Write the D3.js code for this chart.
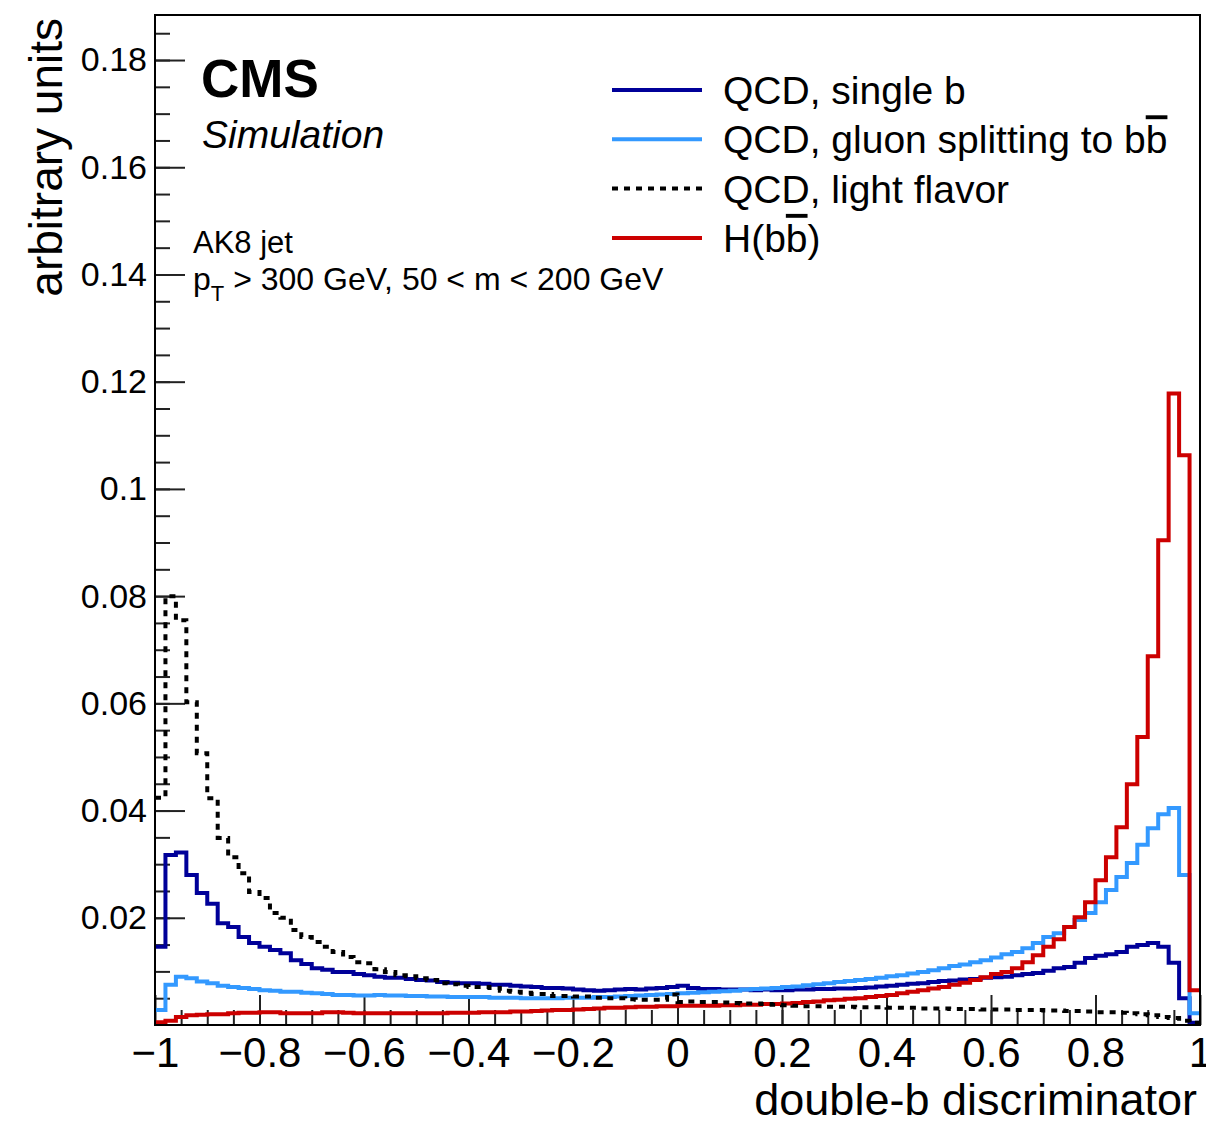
<!DOCTYPE html>
<html>
<head>
<meta charset="utf-8">
<script src="https://cdn.jsdelivr.net/npm/d3@7"></script>
<style>
  body { margin: 0; background: #fff; }
  text { font-family: "Liberation Sans", Arial, Helvetica, sans-serif; fill: #000; }
</style>
</head>
<body>
<div id="chart"></div>
<script>
// binning of the discriminator histograms
const xMin = -1, xMax = 1, nBins = 100;

// bin contents (100 bins of width 0.02)
const singleB = [
  0.0146, 0.0317, 0.0322, 0.0280, 0.0246, 0.0226, 0.0190, 0.0183, 0.0164, 0.0153,
  0.0146, 0.0140, 0.0134, 0.0121, 0.0114, 0.0106, 0.0103, 0.0099, 0.0099, 0.0095,
  0.0093, 0.0090, 0.0088, 0.0088, 0.0086, 0.0084, 0.0083, 0.0080, 0.0079, 0.0078,
  0.0078, 0.0077, 0.0075, 0.0075, 0.0073, 0.0072, 0.0071, 0.0069, 0.0069, 0.0068,
  0.0066, 0.0065, 0.0064, 0.0065, 0.0066, 0.0067, 0.0066, 0.0068, 0.0069, 0.0071,
  0.0073, 0.0069, 0.0067, 0.0067, 0.0066, 0.0066, 0.0066, 0.0065, 0.0066, 0.0065,
  0.0065, 0.0066, 0.0066, 0.0067, 0.0067, 0.0068, 0.0068, 0.0069, 0.0070, 0.0072,
  0.0073, 0.0075, 0.0077, 0.0078, 0.0080, 0.0082, 0.0083, 0.0085, 0.0086, 0.0088,
  0.0089, 0.0090, 0.0093, 0.0095, 0.0097, 0.0101, 0.0106, 0.0108, 0.0116, 0.0125,
  0.0129, 0.0132, 0.0136, 0.0146, 0.0149, 0.0153, 0.0146, 0.0116, 0.0050, 0.0004
];
const gluonSplit = [
  0.0028, 0.0075, 0.0090, 0.0087, 0.0081, 0.0078, 0.0073, 0.0071, 0.0069, 0.0067,
  0.0065, 0.0064, 0.0062, 0.0062, 0.0060, 0.0059, 0.0058, 0.0056, 0.0056, 0.0055,
  0.0055, 0.0056, 0.0055, 0.0055, 0.0054, 0.0054, 0.0053, 0.0053, 0.0052, 0.0052,
  0.0052, 0.0052, 0.0051, 0.0051, 0.0051, 0.0050, 0.0050, 0.0050, 0.0050, 0.0051,
  0.0051, 0.0051, 0.0052, 0.0052, 0.0053, 0.0054, 0.0055, 0.0056, 0.0057, 0.0058,
  0.0059, 0.0060, 0.0061, 0.0062, 0.0063, 0.0064, 0.0066, 0.0067, 0.0068, 0.0069,
  0.0071, 0.0072, 0.0074, 0.0076, 0.0078, 0.0080, 0.0082, 0.0084, 0.0086, 0.0088,
  0.0091, 0.0093, 0.0096, 0.0099, 0.0102, 0.0106, 0.0110, 0.0113, 0.0117, 0.0121,
  0.0126, 0.0132, 0.0136, 0.0143, 0.0153, 0.0164, 0.0171, 0.0183, 0.0196, 0.0209,
  0.0229, 0.0252, 0.0276, 0.0302, 0.0336, 0.0367, 0.0393, 0.0405, 0.0280, 0.0022
];
const lightFlavor = [
  0.0424, 0.0800, 0.0755, 0.0602, 0.0507, 0.0423, 0.0349, 0.0313, 0.0283, 0.0248,
  0.0237, 0.0209, 0.0200, 0.0177, 0.0164, 0.0155, 0.0146, 0.0136, 0.0127, 0.0117,
  0.0115, 0.0104, 0.0099, 0.0093, 0.0091, 0.0087, 0.0084, 0.0078, 0.0076, 0.0073,
  0.0071, 0.0071, 0.0069, 0.0064, 0.0062, 0.0060, 0.0058, 0.0058, 0.0054, 0.0054,
  0.0053, 0.0053, 0.0051, 0.0050, 0.0050, 0.0048, 0.0047, 0.0047, 0.0047, 0.0057,
  0.0043, 0.0044, 0.0043, 0.0043, 0.0042, 0.0041, 0.0040, 0.0040, 0.0039, 0.0038,
  0.0037, 0.0036, 0.0035, 0.0035, 0.0034, 0.0034, 0.0034, 0.0033, 0.0033, 0.0033,
  0.0032, 0.0032, 0.0032, 0.0031, 0.0031, 0.0031, 0.0030, 0.0030, 0.0030, 0.0029,
  0.0029, 0.0029, 0.0028, 0.0028, 0.0028, 0.0027, 0.0027, 0.0026, 0.0026, 0.0025,
  0.0024, 0.0024, 0.0023, 0.0022, 0.0020, 0.0018, 0.0015, 0.0013, 0.0008, 0.0004
];
const higgsBB = [
  0.0005, 0.0008, 0.0015, 0.0018, 0.0019, 0.0020, 0.0020, 0.0022, 0.0023, 0.0023,
  0.0024, 0.0024, 0.0022, 0.0022, 0.0022, 0.0022, 0.0024, 0.0024, 0.0023, 0.0022,
  0.0022, 0.0022, 0.0022, 0.0022, 0.0022, 0.0022, 0.0022, 0.0022, 0.0023, 0.0023,
  0.0023, 0.0024, 0.0024, 0.0024, 0.0025, 0.0025, 0.0026, 0.0027, 0.0028, 0.0028,
  0.0029, 0.0030, 0.0031, 0.0032, 0.0032, 0.0033, 0.0034, 0.0034, 0.0035, 0.0035,
  0.0036, 0.0036, 0.0036, 0.0036, 0.0037, 0.0037, 0.0038, 0.0038, 0.0039, 0.0039,
  0.0040, 0.0041, 0.0043, 0.0044, 0.0046, 0.0047, 0.0049, 0.0050, 0.0052, 0.0054,
  0.0056, 0.0059, 0.0062, 0.0065, 0.0068, 0.0071, 0.0075, 0.0079, 0.0084, 0.0089,
  0.0095, 0.0099, 0.0106, 0.0117, 0.0130, 0.0146, 0.0160, 0.0183, 0.0201, 0.0229,
  0.0270, 0.0313, 0.0369, 0.0449, 0.0537, 0.0688, 0.0904, 0.1178, 0.1063, 0.0065
];

const xTicks = [-1, -0.8, -0.6, -0.4, -0.2, 0, 0.2, 0.4, 0.6, 0.8, 1];
const yTicks = [0.02, 0.04, 0.06, 0.08, 0.1, 0.12, 0.14, 0.16, 0.18];
const yMax = 0.1884;

const series = [
  { name: "QCD, single b", values: singleB, color: "#000099", dash: null },
  { name: "QCD, gluon splitting to b", bar: "b", values: gluonSplit, color: "#3399ff", dash: null },
  { name: "H(b", bar: "b", tail: ")", values: higgsBB, color: "#cc0000", dash: null },
  { name: "QCD, light flavor", values: lightFlavor, color: "#000000", dash: "6,6" }
];
const legendOrder = [0, 1, 3, 2];

const W = 1206, H = 1127;
const margin = { top: 15, right: 6, bottom: 102, left: 155 };
const width = W - margin.left - margin.right,
  height = H - margin.top - margin.bottom;

const svg = d3.select("#chart").append("svg")
  .attr("width", W).attr("height", H);

const x = d3.scaleLinear().domain([xMin, xMax]).range([margin.left, margin.left + width]);
const y = d3.scaleLinear().domain([0, yMax]).range([margin.top + height, margin.top]);

const binW = (xMax - xMin) / nBins;

// minor ticks
svg.append("g")
  .attr("transform", "translate(" + margin.left + ",0)")
  .call(d3.axisLeft(y).tickValues(d3.range(1, 38).map(i => i * 0.005)).tickSizeInner(-15).tickSizeOuter(0).tickFormat(""))
  .call(g => g.select(".domain").remove());
svg.append("g")
  .attr("transform", "translate(0," + (margin.top + height) + ")")
  .call(d3.axisBottom(x).tickValues(d3.range(1, 40).map(i => xMin + i * 0.05)).tickSizeInner(-15).tickSizeOuter(0).tickFormat(""))
  .call(g => g.select(".domain").remove());

// major ticks + labels
const yAxis = svg.append("g")
  .attr("transform", "translate(" + margin.left + ",0)")
  .call(d3.axisLeft(y).tickValues(yTicks).tickSizeInner(-30).tickSizeOuter(0).tickPadding(8).tickFormat(d => String(d)));
yAxis.select(".domain").remove();
yAxis.selectAll("text").style("font-size", "34px").attr("font-family", null);

const xAxis = svg.append("g")
  .attr("transform", "translate(0," + (margin.top + height) + ")")
  .call(d3.axisBottom(x).tickValues(xTicks).tickSizeInner(-30).tickSizeOuter(0).tickPadding(12)
    .tickFormat(d => d < 0 ? "\u2212" + Math.abs(d) : String(d)));
xAxis.select(".domain").remove();
xAxis.selectAll("text").style("font-size", "42px").attr("font-family", null);

svg.selectAll(".tick line").attr("stroke", "#222").attr("stroke-width", 2);

// histograms
const step = d3.line().x(d => x(d[0])).y(d => y(d[1]));
series.forEach(s => {
  const pts = [];
  s.values.forEach((v, i) => {
    pts.push([xMin + i * binW, v]);
    pts.push([xMin + (i + 1) * binW, v]);
  });
  svg.append("path")
    .attr("d", step(pts))
    .attr("fill", "none")
    .attr("stroke", s.color)
    .attr("stroke-width", 4)
    .attr("stroke-dasharray", s.dash);
});

// frame
svg.append("rect")
  .attr("x", margin.left).attr("y", margin.top)
  .attr("width", width).attr("height", height)
  .attr("fill", "none").attr("stroke", "#000").attr("stroke-width", 2);

// axis titles
svg.append("text")
  .attr("text-anchor", "end")
  .attr("x", margin.left + width - 3)
  .attr("y", 1115)
  .style("font-size", "45px")
  .text("double-b discriminator");
svg.append("text")
  .attr("text-anchor", "end")
  .attr("transform", "translate(62,18) rotate(-90)")
  .style("font-size", "46px")
  .text("arbitrary units");

// CMS label
svg.append("text").attr("x", 201).attr("y", 97)
  .style("font-size", "53px").style("font-weight", "bold").text("CMS");
svg.append("text").attr("x", 202).attr("y", 148)
  .style("font-size", "39px").style("font-style", "italic").text("Simulation");
svg.append("text").attr("x", 193).attr("y", 253)
  .style("font-size", "31px").text("AK8 jet");
const sel = svg.append("text").attr("x", 193).attr("y", 290).style("font-size", "32px");
sel.append("tspan").text("p");
sel.append("tspan").attr("dy", 11).style("font-size", "22px").text("T");
sel.append("tspan").attr("dy", -11).text(" > 300 GeV, 50 < m < 200 GeV");

// legend
const legend = svg.append("g");
legendOrder.forEach((k, j) => {
  const s = series[k];
  const ly = 90 + j * 49.3;
  legend.append("line")
    .attr("x1", 612).attr("x2", 702)
    .attr("y1", ly).attr("y2", ly)
    .attr("stroke", s.color).attr("stroke-width", 4)
    .attr("stroke-dasharray", s.dash);
  const t = legend.append("text").attr("x", 723).attr("y", ly + 14).style("font-size", "39px");
  t.append("tspan").text(s.name);
  if (s.bar) t.append("tspan").style("text-decoration", "overline").text(s.bar);
  if (s.tail) t.append("tspan").text(s.tail);
});
</script>
</body>
</html>
